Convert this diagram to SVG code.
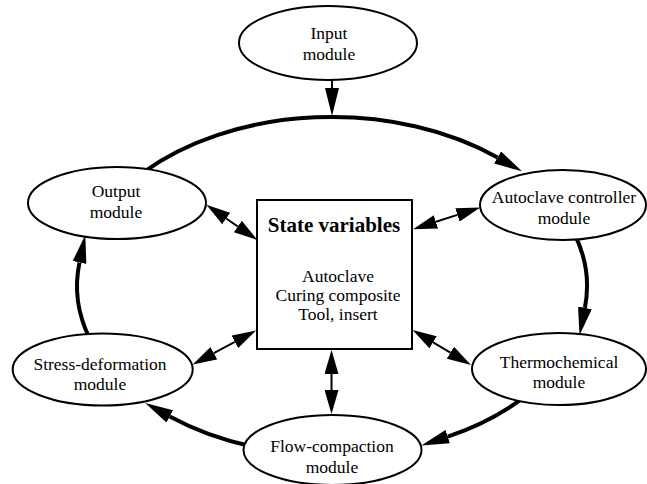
<svg xmlns="http://www.w3.org/2000/svg" width="647" height="484" viewBox="0 0 647 484">
<style>
.node{fill:#fff;stroke:#000;stroke-width:2}
.lbl{font-family:"Liberation Serif","Times New Roman",serif;font-size:17.5px;fill:#000;text-anchor:middle}
.ring{fill:none;stroke:#000;stroke-width:4;marker-end:url(#bigHead)}
.dbl{fill:none;stroke:#000;stroke-width:2;marker-start:url(#smallHead);marker-end:url(#smallHead)}
</style>
<defs>
<marker id="bigHead" markerUnits="userSpaceOnUse" viewBox="0 -7 28 14" markerWidth="28" markerHeight="14" refX="0" refY="0" orient="auto"><path d="M0,-7 L28,0 L0,7 z" fill="#000"/></marker>
<marker id="smallHead" markerUnits="userSpaceOnUse" viewBox="0 -7 24 14" markerWidth="24" markerHeight="14" refX="0" refY="0" orient="auto-start-reverse"><path d="M0,-7 L24,0 L0,7 z" fill="#000"/></marker>
</defs>
<rect width="647" height="484" fill="#fff"/>
<g id="connectors">
<path class="ring" d="M332,80 L332,88" style="stroke-width:2"/>
<path class="ring" d="M142.5,172.9 A255,169 0 0 1 497.6,157.5"/>
<path class="ring" d="M574.5,233.8 A255,169 0 0 1 584.9,307.8"/>
<path class="ring" d="M524.4,396.9 A255,169 0 0 1 447.8,436.6"/>
<path class="ring" d="M253.2,446.7 A255,169 0 0 1 169.8,416.4"/>
<path class="ring" d="M89.5,338.2 A255,169 0 0 1 79.5,262.5"/>
<path class="dbl" d="M226.2,218.5 L237.8,226.5"/>
<path class="dbl" d="M435.9,221.8 L457.4,214.9"/>
<path class="dbl" d="M213.8,353.2 L234.9,341.8"/>
<path class="dbl" d="M331.5,374 L331.5,390"/>
<path class="dbl" d="M433.1,342.3 L450.4,352.7"/>
</g>
<g id="input">
<ellipse class="node" cx="328" cy="43" rx="89" ry="37"/>
<text class="lbl" x="329" y="39">Input</text>
<text class="lbl" x="329" y="60">module</text>
</g>
<g id="output">
<ellipse class="node" cx="117" cy="203" rx="89" ry="36"/>
<text class="lbl" x="116" y="196.5">Output</text>
<text class="lbl" x="116" y="217.5">module</text>
</g>
<g id="autoclave">
<ellipse class="node" cx="563" cy="205" rx="83" ry="35"/>
<text class="lbl" x="564" y="202.5">Autoclave controller</text>
<text class="lbl" x="564" y="224">module</text>
</g>
<g id="state">
<rect class="node" x="257" y="200" width="155" height="149"/>
<text class="lbl" x="334" y="231.5" style="font-size:21px;font-weight:bold">State variables</text>
<text class="lbl" x="338" y="282">Autoclave</text>
<text class="lbl" x="338" y="301">Curing composite</text>
<text class="lbl" x="338" y="320">Tool, insert</text>
</g>
<g id="thermo">
<ellipse class="node" cx="559" cy="369" rx="87" ry="36"/>
<text class="lbl" x="559" y="368.3">Thermochemical</text>
<text class="lbl" x="559" y="388.3">module</text>
</g>
<g id="flow">
<ellipse class="node" cx="332.5" cy="450" rx="89" ry="35"/>
<text class="lbl" x="332" y="452">Flow-compaction</text>
<text class="lbl" x="332" y="473">module</text>
</g>
<g id="stress">
<ellipse class="node" cx="102.7" cy="369.5" rx="90" ry="36"/>
<text class="lbl" x="100" y="370.3">Stress-deformation</text>
<text class="lbl" x="100" y="390.3">module</text>
</g>
</svg>
